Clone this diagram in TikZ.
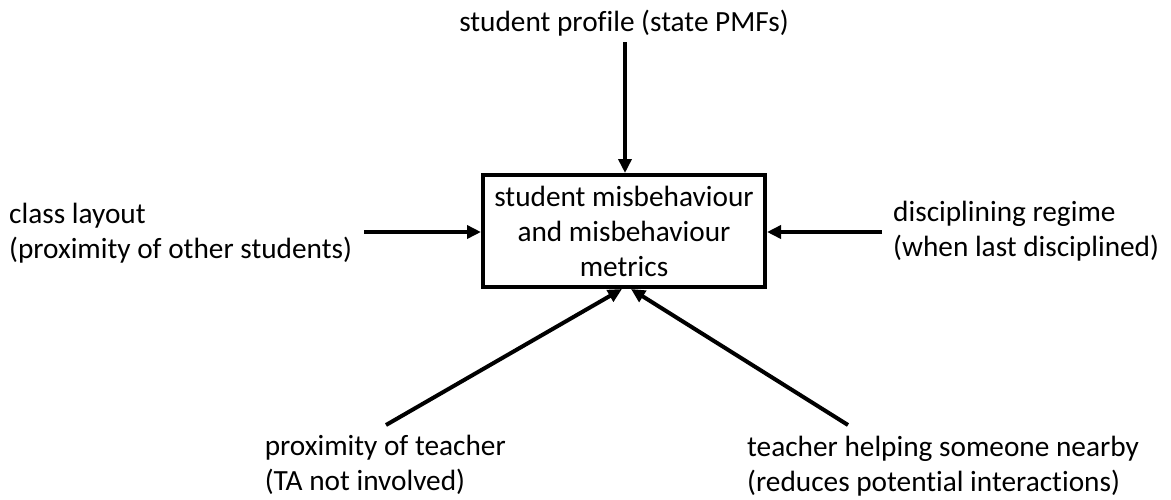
\documentclass[tikz,border=0pt]{standalone}
\usepackage{fontspec}
\setmainfont[Ligatures=NoCommon]{Carlito}
\usetikzlibrary{arrows.meta}
\begin{document}
\begin{tikzpicture}[x=1pt,y=-1pt,
  lbl/.style={inner sep=0pt,font=\fontsize{29.3}{35}\selectfont,align=left},
  arr/.style={line width=4pt,-{Triangle[length=14pt,width=13pt]}},
  mainbox/.style={draw,line width=4pt,minimum width=282pt,minimum height=112pt,inner sep=0pt,align=center,font=\fontsize{29.3}{35}\selectfont}]
\useasboundingbox (0,0) rectangle (1171,499);
\node[mainbox] (box) at (624,231) {student misbehaviour\\and misbehaviour\\metrics};
\node[lbl,anchor=center] (top) at (624,23) {student profile (state PMFs)};
\coordinate (topS) at (625,42);
\draw[arr] (topS) -- (box.north -| topS);
\node[lbl,anchor=west] (left) at (9,233) {class layout\\(proximity of other students)};
\coordinate (leftS) at (364,232);
\draw[arr] (leftS) -- (box.west |- leftS);
\node[lbl,anchor=west] (right) at (893,231) {disciplining regime\\(when last disciplined)};
\coordinate (rightS) at (882,232);
\draw[arr] (rightS) -- (box.east |- rightS);
\node[lbl,anchor=east] (bl) at (506,465) {proximity of teacher\\(TA not involved)};
\coordinate (blS) at (386,425);
\coordinate (blE) at (622,289);
\draw[arr] (blS) -- (blE);
\node[lbl,anchor=west] (br) at (747,466) {teacher helping someone nearby\\(reduces potential interactions)};
\coordinate (brS) at (848,425);
\coordinate (brE) at (631,289);
\draw[arr] (brS) -- (brE);
\end{tikzpicture}
\end{document}
